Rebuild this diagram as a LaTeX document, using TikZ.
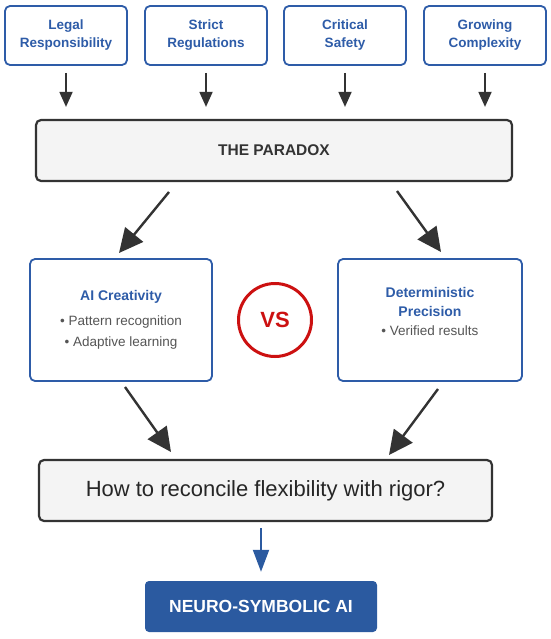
\documentclass[tikz,border=0pt]{standalone}
\usepackage{fontspec}
\setmainfont{Liberation Sans}
\usetikzlibrary{arrows.meta,calc}
\definecolor{bblue}{HTML}{2E5CA8}
\definecolor{dgray}{HTML}{333333}
\definecolor{tgray}{HTML}{555555}
\definecolor{pfill}{HTML}{F4F4F4}
\definecolor{vsred}{HTML}{CC1111}
\definecolor{nblue}{HTML}{2B5AA0}
\begin{document}
\begin{tikzpicture}[x=1pt,y=-1pt,
  topbox/.style={draw=bblue, line width=1.8pt, rounded corners=5pt, fill=white,
    minimum width=122pt, minimum height=59pt, align=center, text=bblue,
    font=\fontsize{13.5}{18}\selectfont\bfseries, inner sep=0pt},
  greybox/.style={draw=dgray, line width=2.2pt, rounded corners=5pt, fill=pfill, inner sep=0pt},
  sidebox/.style={draw=bblue, line width=1.8pt, rounded corners=5pt, fill=white,
    minimum width=182pt, minimum height=122pt, inner sep=0pt},
  ttl/.style={text=bblue, font=\fontsize{14}{19}\selectfont\bfseries, align=center, inner sep=0pt},
  bul/.style={text=tgray, font=\fontsize{13.5}{18}\selectfont, inner sep=0pt},
  tarr/.style={draw=dgray, line width=1.8pt, -{Triangle[length=15pt,width=13pt]}},
  darr/.style={draw=dgray, line width=2.4pt, -{Triangle[length=24pt,width=23pt]}},
  barr/.style={draw=nblue, line width=2pt, -{Triangle[length=22pt,width=16pt]}}
]
\useasboundingbox (0,0) rectangle (550,639);

% top boxes
\node[topbox] (b1) at (66,35.5) {Legal\\Responsibility};
\node[topbox] (b2) at (206,35.5) {Strict\\Regulations};
\node[topbox] (b3) at (345,35.5) {Critical\\Safety};
\node[topbox] (b4) at (485,35.5) {Growing\\Complexity};

% paradox
\node[greybox, minimum width=476pt, minimum height=61pt, text=dgray,
  font=\fontsize{15.5}{18}\selectfont\bfseries] (paradox) at (274,150.5) {THE PARADOX};

\foreach \b in {b1,b2,b3,b4}
  \draw[tarr, shorten <=7pt, shorten >=12pt] (\b) -- (\b |- paradox.north);

% side boxes
\node[sidebox] (left) at (121,320) {};
\node[sidebox, minimum width=184pt] (right) at (430,320) {};
\node[ttl] (lt) at (121,297) {AI Creativity};
\node[bul] (l1) at (121,322) {• Pattern recognition};
\node[bul] (l2) at (121,343) {• Adaptive learning};
\node[ttl] (rt1) at (430,292) {Deterministic};
\node[ttl] (rt2) at (430,311) {Precision};
\node[bul] (r1) at (430,331) {• Verified results};

% vs
\node[circle, draw=vsred, line width=3pt, minimum size=73pt, inner sep=0pt,
  text=vsred, font=\fontsize{22}{24}\selectfont\bfseries] (vs) at (275,320) {VS};

% diagonal arrows
\coordinate (pl) at (169,192);
\coordinate (pr) at (397,191);
\coordinate (al) at (119,253);
\coordinate (ar) at (441,252);
\draw[darr] (pl) -- (al);
\draw[darr] (pr) -- (ar);

% question
\node[greybox, minimum width=453pt, minimum height=61pt, text=black!85,
  font=\fontsize{22}{24}\selectfont] (q) at (265.5,490.5) {How to reconcile flexibility with rigor?};

\coordinate (ql) at (125,387);
\coordinate (qr) at (438,389);
\coordinate (qlt) at (171,452);
\coordinate (qrt) at (389,455);
\draw[darr] (ql) -- (qlt);
\draw[darr] (qr) -- (qrt);

% neuro-symbolic
\node[fill=nblue, rounded corners=4pt, minimum width=232pt, minimum height=51pt,
  text=white, font=\fontsize{17.5}{20}\selectfont\bfseries, inner sep=0pt] (ns) at (261,606.5) {NEURO-SYMBOLIC AI};

\draw[barr, shorten <=6pt, shorten >=9pt] (q.south -| ns.north) -- (ns.north);
\end{tikzpicture}
\end{document}
